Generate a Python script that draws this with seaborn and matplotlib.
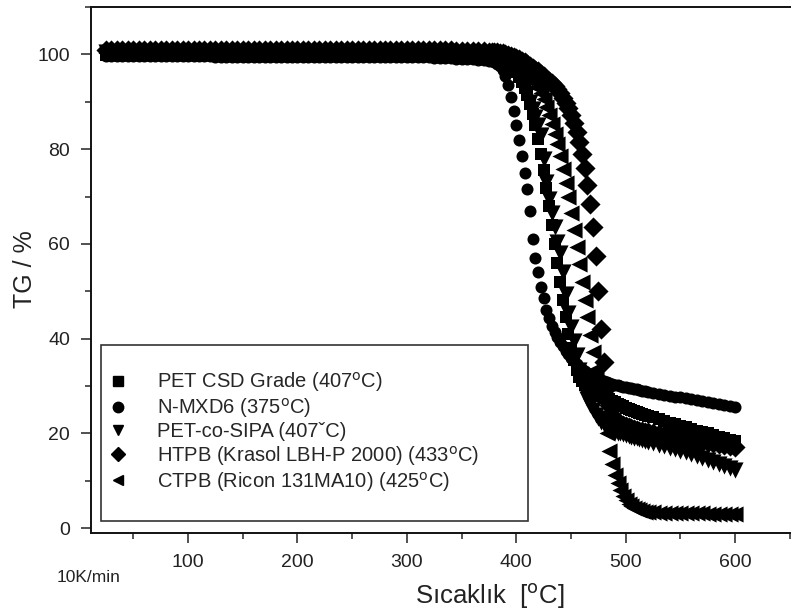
import seaborn as sns
import matplotlib.pyplot as plt
from matplotlib.lines import Line2D
from matplotlib.patches import Rectangle
from matplotlib.ticker import MultipleLocator

# sicaklik noktalari (C)
temp_flat = [25, 30, 35, 40, 45, 50, 55, 60, 65, 70,
             75, 80, 85, 90, 95, 100, 105, 110, 115, 120,
             125, 130, 135, 140, 145, 150, 155, 160, 165, 170,
             175, 180, 185, 190, 195, 200, 205, 210, 215, 220,
             225, 230, 235, 240, 245, 250, 255, 260, 265, 270,
             275, 280, 285, 290, 295, 300, 305, 310, 315, 320,
             325, 330, 335, 340, 345, 350, 355, 360, 365, 370,
             375]
temp_drop = [377.5, 380, 382.5, 385, 387.5, 390, 392.5, 395, 397.5, 400,
             402.5, 405, 407.5, 410, 412.5, 415, 417.5, 420, 422.5, 425,
             427.5, 430, 432.5, 435, 437.5, 440, 442.5, 445, 447.5, 450,
             452.5, 455, 457.5, 460, 462.5, 465, 467.5, 470, 472.5, 475,
             477.5, 480, 482.5, 485, 487.5, 490, 492.5, 495, 497.5, 500,
             502.5, 505, 507.5, 510, 512.5, 515, 517.5, 520]
temp_tail = [525, 530, 535, 540, 545, 550, 555, 560, 565, 570,
             575, 580, 585, 590, 595, 600]
temp = temp_flat + temp_drop + temp_tail

# TG (%) degerleri
pet_csd = [99.9, 99.9, 99.9, 99.9, 99.9, 99.9, 99.9, 99.9, 99.9, 99.9,
           99.9, 99.9, 99.9, 99.9, 99.9, 99.9, 99.9, 99.9, 99.9, 99.9,
           99.8, 99.8, 99.8, 99.8, 99.8, 99.8, 99.8, 99.8, 99.8, 99.8,
           99.8, 99.8, 99.8, 99.8, 99.8, 99.8, 99.8, 99.8, 99.8, 99.8,
           99.8, 99.8, 99.8, 99.8, 99.8, 99.8, 99.8, 99.8, 99.8, 99.8,
           99.8, 99.8, 99.8, 99.8, 99.8, 99.8, 99.8, 99.8, 99.8, 99.8,
           99.7, 99.7, 99.7, 99.7, 99.7, 99.7, 99.6, 99.6, 99.6, 99.6,
           99.6,
           99.5, 99.4, 99.2, 99.0, 98.7, 98.4, 98.0, 97.5, 96.9, 96.2,
           95.3, 94.2, 92.9, 91.4, 89.6, 87.5, 85.0, 82.2, 79.0, 75.5,
           71.8, 68.0, 64.0, 60.0, 56.0, 52.0, 48.2, 44.5, 41.0, 38.0,
           35.5, 33.5, 32.0, 31.0, 30.3, 29.8, 29.4, 29.0, 28.7, 28.4,
           28.1, 27.8, 27.5, 27.2, 26.9, 26.6, 26.3, 26.0, 25.7, 25.4,
           25.1, 24.9, 24.7, 24.5, 24.3, 24.1, 23.9, 23.7,
           23.4, 23.0, 22.7, 22.3, 22.0, 21.6, 21.3, 21.0, 20.6, 20.3,
           20.0, 19.6, 19.3, 19.0, 18.7, 18.4]

n_mxd6 = [99.6, 99.6, 99.6, 99.6, 99.6, 99.6, 99.6, 99.6, 99.6, 99.6,
          99.6, 99.6, 99.6, 99.6, 99.6, 99.6, 99.6, 99.6, 99.6, 99.6,
          99.5, 99.5, 99.5, 99.5, 99.5, 99.5, 99.5, 99.5, 99.5, 99.5,
          99.5, 99.5, 99.5, 99.5, 99.5, 99.5, 99.5, 99.5, 99.5, 99.5,
          99.4, 99.4, 99.4, 99.4, 99.4, 99.4, 99.4, 99.4, 99.4, 99.4,
          99.4, 99.4, 99.4, 99.4, 99.4, 99.4, 99.4, 99.4, 99.4, 99.4,
          99.3, 99.3, 99.2, 99.2, 99.1, 99.1, 99.0, 99.0, 98.9, 98.8,
          98.7,
          98.6, 98.4, 98.0, 97.5, 96.7, 95.5, 93.5, 91.0, 88.0, 85.0,
          82.0, 78.5, 75.0, 71.5, 67.0, 61.0, 57.0, 54.0, 51.0, 48.5,
          46.0, 44.3, 42.7, 41.4, 40.3, 39.3, 38.4, 37.5, 36.7, 36.0,
          35.3, 34.7, 34.1, 33.6, 33.1, 32.7, 32.3, 32.0, 31.7, 31.4,
          31.2, 31.0, 30.8, 30.6, 30.5, 30.3, 30.2, 30.1, 29.9, 29.8,
          29.7, 29.5, 29.4, 29.3, 29.2, 29.0, 28.9, 28.8,
          28.6, 28.4, 28.2, 28.0, 27.8, 27.6, 27.4, 27.2, 27.0, 26.8,
          26.6, 26.4, 26.2, 26.0, 25.8, 25.6]

pet_sipa = [100.5, 100.5, 100.5, 100.5, 100.5, 100.5, 100.5, 100.5, 100.5, 100.5,
            100.5, 100.5, 100.5, 100.5, 100.5, 100.5, 100.5, 100.5, 100.5, 100.5,
            100.5, 100.5, 100.5, 100.5, 100.5, 100.5, 100.5, 100.5, 100.5, 100.5,
            100.5, 100.5, 100.5, 100.5, 100.5, 100.5, 100.5, 100.5, 100.5, 100.5,
            100.4, 100.4, 100.4, 100.4, 100.4, 100.4, 100.4, 100.4, 100.4, 100.4,
            100.4, 100.4, 100.4, 100.4, 100.4, 100.4, 100.4, 100.4, 100.4, 100.4,
            100.4, 100.3, 100.3, 100.3, 100.2, 100.2, 100.2, 100.1, 100.1, 100.1,
            100.0,
            100.0, 99.8, 99.6, 99.4, 99.1, 98.8, 98.4, 98.0, 97.4, 96.7,
            95.8, 94.7, 93.4, 91.8, 90.0, 88.5, 86.8, 85.0, 83.0, 78.0,
            73.0, 69.5, 66.5, 63.5, 60.5, 58.0, 54.0, 49.5, 45.5, 42.5,
            39.5, 36.5, 33.5, 31.0, 29.0, 27.3, 26.0, 25.0, 24.0, 23.2,
            22.5, 21.9, 21.4, 21.0, 20.7, 20.4, 20.2, 20.0, 19.8, 19.6,
            19.4, 19.3, 19.1, 19.0, 18.8, 18.6, 18.5, 18.3,
            18.0, 17.6, 17.3, 17.0, 16.7, 16.4, 16.0, 15.6, 15.2, 14.8,
            14.4, 14.0, 13.6, 13.2, 12.7, 12.2]

htpb = [101.0, 101.0, 101.0, 101.0, 101.0, 101.0, 101.0, 101.0, 101.0, 101.0,
        101.0, 101.0, 101.0, 101.0, 101.0, 101.0, 101.0, 101.0, 101.0, 101.0,
        101.0, 101.0, 101.0, 101.0, 101.0, 101.0, 101.0, 101.0, 101.0, 101.0,
        101.0, 101.0, 101.0, 101.0, 101.0, 101.0, 101.0, 101.0, 101.0, 101.0,
        101.0, 101.0, 101.0, 101.0, 101.0, 101.0, 101.0, 101.0, 101.0, 101.0,
        101.0, 101.0, 101.0, 101.0, 101.0, 101.0, 101.0, 101.0, 101.0, 101.0,
        101.0, 100.9, 100.9, 100.9, 100.8, 100.8, 100.8, 100.7, 100.7, 100.7,
        100.6,
        100.6, 100.5, 100.4, 100.3, 100.2, 100.0, 99.9, 99.7, 99.5, 99.3,
        99.0, 98.7, 98.4, 98.0, 97.6, 97.2, 96.8, 96.4, 95.9, 95.4,
        94.9, 94.4, 93.9, 93.3, 92.6, 91.8, 90.9, 89.8, 88.6, 87.2,
        85.6, 83.7, 81.5, 79.0, 76.0, 72.5, 68.5, 63.5, 57.5, 50.0,
        42.0, 35.0, 29.5, 26.0, 24.0, 23.0, 22.4, 22.0, 21.7, 21.5,
        21.3, 21.1, 20.9, 20.8, 20.6, 20.5, 20.4, 20.3,
        20.1, 19.9, 19.7, 19.5, 19.3, 19.1, 18.9, 18.7, 18.5, 18.3,
        18.1, 17.9, 17.7, 17.5, 17.3, 17.1]

ctpb = [100.2, 100.2, 100.2, 100.2, 100.2, 100.2, 100.2, 100.2, 100.2, 100.2,
        100.2, 100.2, 100.2, 100.2, 100.2, 100.2, 100.2, 100.2, 100.2, 100.2,
        100.2, 100.2, 100.2, 100.2, 100.2, 100.2, 100.2, 100.2, 100.2, 100.2,
        100.2, 100.2, 100.2, 100.2, 100.2, 100.2, 100.2, 100.2, 100.2, 100.2,
        100.2, 100.2, 100.2, 100.2, 100.2, 100.2, 100.2, 100.2, 100.2, 100.2,
        100.2, 100.2, 100.2, 100.2, 100.2, 100.2, 100.2, 100.2, 100.2, 100.2,
        100.2, 100.2, 100.2, 100.2, 100.2, 100.2, 100.2, 100.2, 100.2, 100.2,
        100.2,
        100.2, 100.1, 100.0, 99.9, 99.7, 99.5, 99.3, 99.0, 98.7, 98.4,
        98.0, 97.5, 97.0, 96.4, 95.7, 94.9, 94.0, 93.0, 91.8, 90.5,
        89.0, 87.3, 85.4, 83.3, 81.0, 78.5, 75.8, 72.9, 69.8, 66.5,
        63.0, 59.4, 55.7, 52.0, 48.2, 44.5, 40.8, 37.2, 33.7, 30.3,
        27.0, 23.8, 20.0, 16.2, 13.5, 11.3, 9.5, 8.0, 6.8, 5.9,
        5.2, 4.7, 4.3, 4.0, 3.8, 3.6, 3.5, 3.4,
        3.4, 3.3, 3.3, 3.3, 3.2, 3.2, 3.2, 3.2, 3.2, 3.2,
        3.1, 3.1, 3.1, 3.1, 3.1, 3.1]

labels = ['PET CSD Grade (407$^{\\mathrm{o}}$C)',
          'N-MXD6 (375$^{\\mathrm{o}}$C)',
          'PET-co-SIPA (407\u02c7C)',
          'HTPB (Krasol LBH-P 2000) (433$^{\\mathrm{o}}$C)',
          'CTPB (Ricon 131MA10) (425$^{\\mathrm{o}}$C)']
markers = ['s', 'o', 'v', 'D', '<']
msizes = [70, 75, 135, 105, 135]
series = [pet_csd, n_mxd6, pet_sipa, htpb, ctpb]

sns.set_style('ticks')
plt.rcParams['font.family'] = ['Liberation Sans', 'DejaVu Sans']
plt.rcParams['mathtext.default'] = 'regular'

fig = plt.figure(figsize=(7.91, 6.11), dpi=100)
ax = fig.add_axes([91/791, 1 - 533/611, 700/791, 526/611])

for vals, m, sz in zip(series, markers, msizes):
    sns.scatterplot(x=temp, y=vals, marker=m, s=sz, color='black',
                    linewidth=0, ax=ax)

ax.set_xlim(11.3, 651)
ax.set_ylim(-1, 110)
ax.xaxis.set_major_locator(MultipleLocator(100))
ax.xaxis.set_minor_locator(MultipleLocator(50))
ax.yaxis.set_major_locator(MultipleLocator(20))
ax.yaxis.set_minor_locator(MultipleLocator(10))
ax.set_xticks([100, 200, 300, 400, 500, 600])
ax.tick_params(which='major', direction='out', length=7, width=1.1, labelsize=14,
               colors='#222222', pad=8)
ax.tick_params(which='minor', direction='out', length=4, width=1.1)
ax.spines['right'].set_visible(False)
for s in ['left', 'bottom', 'top']:
    ax.spines[s].set_linewidth(1.4)
    ax.spines[s].set_color('#111111')

fig.text(25/791, 1 - 269/611, 'TG / %', rotation=90, ha='center', va='center',
         fontsize=18, color='#222222')
fig.text(490/791, 1 - 596/611, 'Sıcaklık  [$^{\\mathrm{o}}$C]', ha='center', va='center',
         fontsize=18.5, color='#222222')
fig.text(57/791, 1 - 578/611, '10K/min', ha='left', va='center', fontsize=12.5,
         color='#222222')

# legend kutusu
ax.add_patch(Rectangle((0.0143, 0.0228), 0.61, 0.3346, transform=ax.transAxes,
                       facecolor='white', edgecolor='#333333', linewidth=1.2, zorder=4))
handles = [Line2D([], [], marker=m, color='black', linestyle='none', markersize=7.5)
           for m in markers]
leg = ax.legend(handles, labels, loc='upper left', bbox_to_anchor=(0.027, 0.309),
                fontsize=14.5, frameon=False, borderpad=0, labelspacing=0.1,
                handletextpad=1.55, handlelength=0.8, borderaxespad=0)
leg.set_zorder(5)

fig.savefig('out.png', dpi=100)
